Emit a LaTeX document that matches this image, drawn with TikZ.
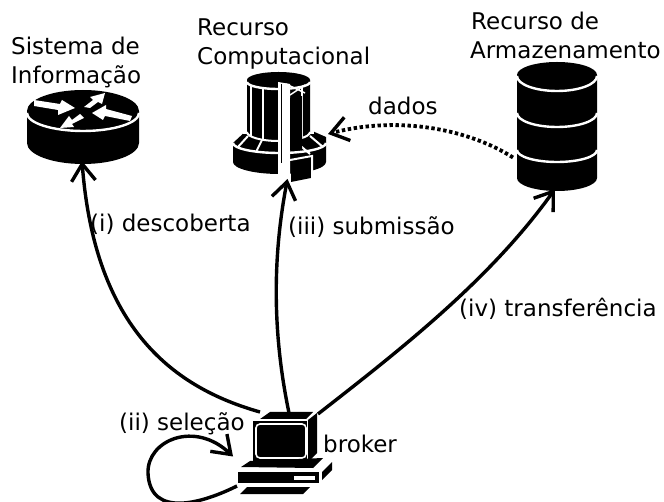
\documentclass[tikz,border=0pt]{standalone}
\usepackage{fontspec}
\setmainfont{DejaVu Sans}
\usetikzlibrary{arrows.meta}
\tikzset{
  lbl/.style={anchor=base west,inner sep=0pt,font=\fontsize{23}{23}\selectfont},
  iconbox/.style={inner sep=0pt,outer sep=0pt},
  conn/.style={line width=3.4pt,-{Straight Barb[length=17pt,width=24pt,line width=3.4pt]}},
  dots/.style={line width=3.8pt,dash pattern=on 3.4pt off 2.6pt,-{Straight Barb[length=17pt,width=24pt,line width=3.4pt]}},
  wl/.style={white,line width=2.4pt}
}
\begin{document}
\begin{tikzpicture}[x=1pt,y=-1pt]
\useasboundingbox (0,0) rectangle (664,502);
\clip (0,0) rectangle (664,502);
% invisible extents of the icons
\node[iconbox,minimum width=112pt,minimum height=74pt] (router) at (83,127) {};
\node[iconbox,minimum width=93pt,minimum height=110pt] (compute) at (279.5,127) {};
\node[iconbox,minimum width=80pt,minimum height=129pt] (storage) at (557,126.5) {};
\node[iconbox,minimum width=90pt,minimum height=85pt] (pc) at (290,454.5) {};
% router
\fill (27,111) arc[start angle=180,end angle=360,x radius=56,y radius=21] -- (139,143)
  arc[start angle=0,end angle=180,x radius=56,y radius=21] -- cycle;
\draw[wl] (27,113) arc[start angle=180,end angle=0,x radius=56,y radius=18];
\fill[white] (34,100) -- (60,104) -- (62,100) -- (75,108) -- (58,115) -- (58,110) -- (34,106) -- cycle;
\fill[white] (84,107) -- (93,100) -- (90,97) -- (105,93) -- (102,104) -- (98,102) -- (90,108) -- cycle;
\fill[white] (132,116) -- (106,109) -- (106,105) -- (92,113) -- (103,120) -- (105,116) -- (130,121) -- cycle;
\fill[white] (80,114) -- (72,120) -- (69,116) -- (60,128) -- (74,127) -- (72,124) -- (84,118) -- cycle;
% storage
\fill (517,75) arc[start angle=180,end angle=360,x radius=40,y radius=13] -- (597,178)
  arc[start angle=0,end angle=180,x radius=40,y radius=13] -- cycle;
\draw[wl] (517,76) arc[start angle=180,end angle=0,x radius=40,y radius=15];
\draw[wl] (517,113) arc[start angle=180,end angle=0,x radius=40,y radius=14];
\draw[wl] (517,150) arc[start angle=180,end angle=0,x radius=40,y radius=12];
% computing resource
\fill (233,143) -- (233,162) arc[start angle=180,end angle=0,x radius=46.5,y radius=12] -- (326,143) -- cycle;
\fill (233,143) -- (247,130) -- (310,130) -- (326,137) -- (326,143) -- cycle;
\draw[wl] (233,143) arc[start angle=180,end angle=0,x radius=46.5,y radius=10];
\draw[wl,line width=2pt] (248,136) -- (238,147) (262,140) -- (256,152) (296,142) -- (310,154) (310,136) -- (323,147);
\draw[white,line width=4pt] (245,90) -- (245,134) (312,90) -- (312,134);
\fill (247,80) -- (247,132) arc[start angle=180,end angle=0,x radius=31.5,y radius=9] -- (310,80) -- cycle;
\fill (278.5,80) ellipse[x radius=31.5,y radius=8];
\draw[wl] (247,82) arc[start angle=180,end angle=0,x radius=31.5,y radius=7];
\draw[wl] (251,86) -- (251,136) (263,88) -- (263,140) (302,86) -- (302,138);
\draw[white,line width=2pt] (247,132) arc[start angle=180,end angle=0,x radius=31.5,y radius=9];
\fill[white] (278,82) -- (290,84) -- (290,182) -- (278,174) -- cycle;
\draw[line width=1.6pt] (281.5,84) -- (281.5,163);
\fill (290,98) -- (302,96) -- (302,150) -- (290,150) -- cycle;
\draw[white,line width=1.5pt] (286,84) -- (305,93) (305,85) -- (290,95);
\fill (291,162) -- (311,158) -- (311,178) -- (291,182) -- cycle;
\draw[wl,line width=2pt] (290,160) -- (312,156) -- (312,178);
% computer
\fill (253,424) -- (270,412) -- (313,412) -- (305,420) -- (305,424) -- cycle;
\fill (253,421) rectangle (307,461);
\draw[white,line width=1.2pt] (256,420) -- (306,420);
\fill (308,420) -- (317,413) -- (317,453) -- (308,462) -- cycle;
\draw[white,rounded corners=4pt,line width=1.6pt] (256,424) rectangle (306,458);
\fill[rounded corners=3pt] (258,426) rectangle (303,455);
\fill (241,467) -- (250,461) -- (323,458) -- (313,468) -- cycle;
\fill (238,472) rectangle (319,483);
\fill[white] (294,476) rectangle (315,480);
\fill (322,472) -- (332,462) -- (332,470) -- (322,480) -- cycle;
\fill (247,487) -- (310,487) -- (303,494) -- (240,494) -- cycle;
% connectors
\draw[conn] ([xshift=-30pt]pc.north) .. controls (175,388) and (95,330) .. ([yshift=3pt,xshift=-1pt]router.south);
\draw[conn] ([xshift=-1pt,yshift=-1pt]pc.north) .. controls (278,360) and (268,280) .. ([xshift=8pt,yshift=3pt]compute.south);
\draw[conn] ([xshift=28pt,yshift=-2pt]pc.north) .. controls (400,350) and (490,280) .. ([xshift=-2pt,yshift=2pt]storage.south);
\draw[conn] ([yshift=11pt,xshift=-8pt]pc.south west) .. controls (205,502) and (150,520) .. (148,473)
  .. controls (147,440) and (195,420) .. ([xshift=-12pt,yshift=-2pt]pc.west);
\draw[dots] ([yshift=-31pt,xshift=-4pt]storage.west) .. controls (470,130) and (400,115) .. ([yshift=-7pt,xshift=2pt]compute.east);
% labels
\node[lbl] (t1) at (11,55) {Sistema de};
\node[lbl] (t2) at (11,84) {Informação};
\node[lbl] (t3) at (197,36) {Recurso};
\node[lbl] (t4) at (197,65) {Computacional};
\node[lbl] (t5) at (471,30) {Recurso de};
\node[lbl] (t6) at (470,59) {Armazenamento};
\node[lbl] (t7) at (368,115) {dados};
\node[lbl] (t8) at (90,232) {(i) descoberta};
\node[lbl] (t9) at (288,235) {(iii) submissão};
\node[lbl] (t10) at (459,317) {(iv) transferência};
\node[lbl] (t11) at (119,430) {(ii) seleção};
\node[lbl] (t12) at (323,452) {broker};
\end{tikzpicture}
\end{document}
